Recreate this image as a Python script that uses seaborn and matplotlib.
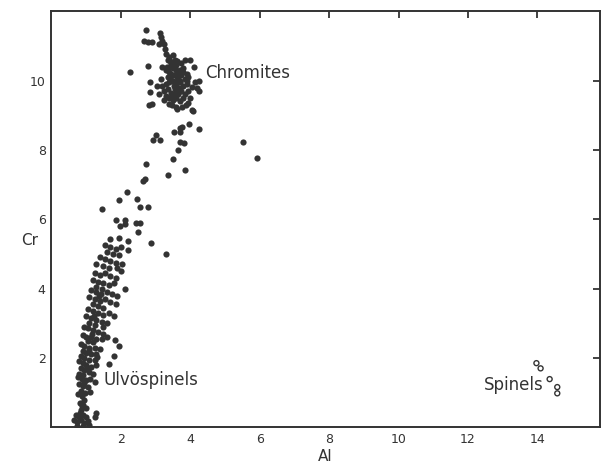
import pandas as pd
import matplotlib
matplotlib.use('Agg')
import matplotlib.pyplot as plt
import seaborn as sns

# chromites (upper cluster + trail)
chromite_al = [2.74, 2.66, 2.78, 2.90, 3.12, 3.16, 3.19, 3.24, 3.10, 3.28, 3.30, 3.38, 3.43, 3.35, 3.50, 3.55,
               2.28, 2.80, 2.85, 2.83, 2.90, 2.82, 3.05, 3.10, 3.24, 3.38, 3.62, 3.77, 4.05,
               4.00, 4.10, 4.24, 4.20, 4.24, 4.15, 4.00, 3.95,
               3.20, 3.30, 3.40, 3.50, 3.60, 3.70, 3.80, 3.90, 3.35, 3.45, 3.55, 3.65, 3.75, 3.85, 3.95,
               3.30, 3.40, 3.50, 3.60, 3.70, 3.80, 3.90, 4.05, 3.25, 3.35, 3.45, 3.55, 3.65, 3.75, 3.85, 3.95,
               3.40, 3.50, 3.60, 3.70, 3.80, 3.88, 3.48, 3.30, 3.20, 3.15, 3.50, 3.62, 3.45, 3.75, 3.85, 3.58,
               3.42, 3.52, 3.63, 3.72, 3.58, 3.48, 3.68, 3.78, 3.38, 3.55, 3.66, 3.46, 3.33, 3.92, 3.62, 3.52,
               4.07, 3.96, 4.25, 3.72, 3.77, 3.53, 3.70, 3.03, 2.93, 3.14, 3.70, 3.83, 3.64, 3.51, 3.35, 3.86,
               5.51, 5.93, 2.73, 2.69, 2.64]
chromite_cr = [11.46, 11.15, 11.10, 11.12, 11.36, 11.25, 11.15, 11.05, 11.05, 10.90, 10.78, 10.67, 10.55, 10.60, 10.75, 10.60,
               10.24, 10.43, 9.95, 9.66, 9.33, 9.30, 9.85, 9.62, 9.43, 9.33, 9.19, 9.23, 9.14,
               10.58, 10.38, 10.00, 9.78, 9.70, 9.95, 9.50, 9.35,
               10.40, 10.30, 10.40, 10.35, 10.45, 10.30, 10.35, 10.20, 10.10, 10.20, 10.15, 10.05, 10.15, 10.05, 10.10,
               9.90, 9.95, 10.00, 9.90, 9.95, 9.85, 9.90, 9.80, 9.70, 9.75, 9.65, 9.75, 9.60, 9.70, 9.60, 9.70,
               9.50, 9.45, 9.50, 9.40, 9.50, 9.30, 9.30, 9.55, 9.85, 10.05, 10.50, 10.25, 10.45, 10.50, 10.60, 9.25,
               10.05, 9.85, 10.10, 10.00, 10.30, 9.58, 9.78, 10.25, 10.25, 9.92, 9.68, 10.12, 10.38, 9.98, 10.55, 9.60,
               9.11, 8.75, 8.59, 8.64, 8.66, 8.51, 8.53, 8.44, 8.29, 8.29, 8.22, 8.20, 8.01, 7.73, 7.29, 7.43,
               8.24, 7.78, 7.60, 7.15, 7.10]

# transition between the groups
mid_al = [2.18, 1.94, 2.47, 2.55, 2.78, 1.46, 1.87, 2.13, 1.99, 2.13, 2.45, 2.56, 2.49, 2.87, 3.31, 1.96, 2.20, 1.68]
mid_cr = [6.79, 6.55, 6.59, 6.35, 6.34, 6.29, 5.99, 5.99, 5.80, 5.87, 5.89, 5.89, 5.64, 5.32, 5.01, 5.47, 5.37, 5.42]

# ulvospinels (lower column)
ulvo_al = [1.55, 1.70, 1.85, 2.00, 2.20, 1.60, 1.78, 1.95,
           1.40, 1.55, 1.70, 1.85, 2.05, 1.30, 1.50, 1.65, 1.90, 2.00,
           1.25, 1.40, 1.55, 1.70, 1.85, 1.20, 1.35, 1.50, 1.65, 1.80, 2.13, 1.30, 1.45,
           1.15, 1.30, 1.42, 1.60, 1.75, 1.90, 1.10, 1.25, 1.40, 1.55, 1.70, 1.85, 1.20, 1.35, 1.50,
           1.05, 1.20, 1.35, 1.50, 1.65, 1.80, 1.00, 1.15, 1.30, 1.45, 1.60, 1.10, 1.25,
           0.95, 1.05, 1.20, 1.35, 1.50, 0.90, 1.00, 1.15, 1.30, 1.45, 1.60, 1.05, 1.20, 1.84, 1.96,
           0.85, 0.95, 1.10, 1.25, 1.40, 0.90, 1.00, 1.15, 1.30, 0.85, 0.95, 1.10, 1.25, 1.80, 1.67,
           0.80, 0.90, 1.00, 1.15, 1.30, 0.85, 0.95, 1.10, 1.20, 0.80, 0.90,
           0.78, 0.88, 1.00, 1.12, 1.25, 0.80, 0.92, 1.05, 0.85, 0.98,
           0.78, 0.88, 0.95, 0.82, 0.92, 1.00, 0.85,
           0.70, 0.80, 0.90, 1.00, 1.30, 1.25, 0.65, 0.75, 0.85, 0.95, 1.05, 0.75, 0.90, 1.10, 0.82,
           1.02, 1.08, 0.93, 1.18, 1.22, 1.38, 1.12, 0.88, 1.32, 1.48]
ulvo_cr = [5.25, 5.20, 5.15, 5.20, 5.10, 5.05, 5.00, 4.98,
           4.90, 4.85, 4.80, 4.75, 4.72, 4.70, 4.65, 4.60, 4.60, 4.50,
           4.45, 4.40, 4.45, 4.35, 4.30, 4.25, 4.20, 4.15, 4.10, 4.15, 3.98, 4.05, 4.00,
           3.95, 3.90, 3.85, 3.90, 3.85, 3.80, 3.75, 3.70, 3.65, 3.70, 3.60, 3.55, 3.55, 3.50, 3.45,
           3.40, 3.35, 3.30, 3.25, 3.30, 3.20, 3.20, 3.15, 3.10, 3.05, 3.00, 3.00, 2.95,
           2.90, 2.85, 2.80, 2.75, 2.70, 2.65, 2.60, 2.60, 2.55, 2.55, 2.60, 2.50, 2.45, 2.52, 2.35,
           2.40, 2.35, 2.30, 2.30, 2.25, 2.20, 2.15, 2.10, 2.10, 2.05, 2.00, 1.95, 1.95, 2.06, 1.83,
           1.90, 1.85, 1.80, 1.75, 1.80, 1.70, 1.65, 1.60, 1.55, 1.55, 1.50,
           1.45, 1.40, 1.35, 1.40, 1.30, 1.25, 1.20, 1.15, 1.05, 1.00,
           0.95, 0.90, 0.80, 0.70, 0.65, 0.55, 0.50,
           0.35, 0.30, 0.35, 0.30, 0.40, 0.30, 0.20, 0.15, 0.20, 0.12, 0.18, 0.05, 0.05, 0.08, 0.42,
           1.72, 2.22, 1.28, 2.68, 3.22, 3.78, 1.02, 0.62, 2.02, 2.88]

# spinels (open circles)
spinel_al = [13.97, 14.09, 14.35, 14.57, 14.57]
spinel_cr = [1.85, 1.70, 1.39, 1.16, 0.98]

filled = pd.DataFrame({'Al': chromite_al + mid_al + ulvo_al,
                       'Cr': chromite_cr + mid_cr + ulvo_cr})
spinels = pd.DataFrame({'Al': spinel_al, 'Cr': spinel_cr})

sns.set_theme(style='white')
plt.rcParams['font.family'] = ['DejaVu Sans']
ink = '#333333'

fig = plt.figure(figsize=(6.03, 4.67), dpi=100)
ax = fig.add_axes([0.085, 0.085, 0.91, 0.891])

sns.scatterplot(data=filled, x='Al', y='Cr', ax=ax, s=20, color=ink, edgecolor=ink, linewidth=0)
sns.scatterplot(data=spinels, x='Al', y='Cr', ax=ax, s=13, facecolor='none', edgecolor=ink, linewidth=1.0)

ax.set_xlim(0, 15.8)
ax.set_ylim(0, 12)
ax.set_xticks([2, 4, 6, 8, 10, 12, 14])
ax.set_yticks([2, 4, 6, 8, 10])
ax.tick_params(direction='in', length=5, width=1.3, color=ink, labelcolor=ink,
               labelsize=9, top=True, right=True, pad=4)
for sp in ax.spines.values():
    sp.set_color(ink)
    sp.set_linewidth(1.4)

ax.set_xlabel('Al', fontsize=11, color=ink, labelpad=2)
ax.set_ylabel('Cr', fontsize=11, color=ink, rotation=0, labelpad=0)
ax.yaxis.set_label_coords(-0.04, 0.43)

ax.text(4.44, 10.23, 'Chromites', fontsize=12, color=ink, va='center', ha='left')
ax.text(1.5, 1.37, 'Ulvöspinels', fontsize=12, color=ink, va='center', ha='left')
ax.text(14.18, 1.22, 'Spinels', fontsize=12, color=ink, va='center', ha='right')

fig.savefig('out.png', dpi=100)
